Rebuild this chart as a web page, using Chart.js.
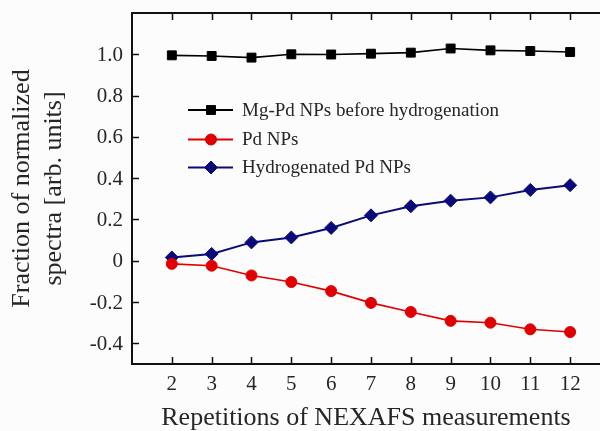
<!DOCTYPE html>
<html>
<head>
<meta charset="utf-8">
<script src="https://cdn.jsdelivr.net/npm/chart.js@4/dist/chart.umd.min.js"></script>
<style>
  html, body { margin: 0; padding: 0; background: #fcfcfc; overflow: hidden; }
  #c { display: block; width: 600px; height: 431px; }
</style>
</head>
<body>
<canvas id="c" width="600" height="431"></canvas>
<script>
// ---- data ----
const repetitions = [2, 3, 4, 5, 6, 7, 8, 9, 10, 11, 12];
const mgPdBefore = [0.995, 0.992, 0.984, 1.000, 0.999, 1.003, 1.008, 1.028, 1.019, 1.016, 1.011];
const pdNPs = [-0.015, -0.024, -0.071, -0.103, -0.147, -0.204, -0.248, -0.291, -0.300, -0.332, -0.345];
const hydrogenatedPd = [0.016, 0.033, 0.089, 0.113, 0.159, 0.220, 0.264, 0.291, 0.307, 0.343, 0.366];
const seriesNames = ['Mg-Pd NPs before hydrogenation', 'Pd NPs', 'Hydrogenated Pd NPs'];
const xTickValues = [2, 3, 4, 5, 6, 7, 8, 9, 10, 11, 12];
const xTickLabels = ['2', '3', '4', '5', '6', '7', '8', '9', '10', '11', '12'];
const yTickValues = [-0.4, -0.2, 0, 0.2, 0.4, 0.6, 0.8, 1.0];
const yTickLabels = ['-0.4', '-0.2', '0', '0.2', '0.4', '0.6', '0.8', '1.0'];
const xTitle = 'Repetitions of NEXAFS measurements';
const yTitle = ['Fraction of normalized', 'spectra [arb. units]'];

const SERIF = "'Liberation Serif', 'Times New Roman', serif";
const TEXT = '#262626';
Chart.defaults.font.family = SERIF;
Chart.defaults.color = TEXT;

function pts(ys) { return repetitions.map((x, i) => ({ x: x, y: ys[i] })); }

const frame = {
  id: 'frame',
  afterDatasetsDraw(chart) {
    const { ctx, chartArea: a, scales } = chart;
    const sx = scales.x, sy = scales.y;
    ctx.save();
    // inward tick marks
    ctx.strokeStyle = '#111';
    ctx.lineWidth = 1.5;
    ctx.beginPath();
    xTickValues.forEach(v => {
      const px = Math.round(sx.getPixelForValue(v)) + 0.5;
      ctx.moveTo(px, a.bottom); ctx.lineTo(px, a.bottom - 7);
      ctx.moveTo(px, a.top); ctx.lineTo(px, a.top + 7);
    });
    yTickValues.forEach(v => {
      const py = Math.round(sy.getPixelForValue(v)) + 0.5;
      ctx.moveTo(a.left, py); ctx.lineTo(a.left + 7, py);
    });
    ctx.stroke();
    ctx.lineWidth = 2;
    ctx.beginPath();
    ctx.moveTo(a.left, a.top); ctx.lineTo(a.right, a.top);
    ctx.stroke();

    // tick labels
    ctx.fillStyle = TEXT;
    ctx.font = '21px ' + SERIF;
    ctx.textBaseline = 'middle';
    ctx.textAlign = 'center';
    xTickValues.forEach((v, i) => ctx.fillText(xTickLabels[i], sx.getPixelForValue(v), a.bottom + 20));
    ctx.textAlign = 'right';
    yTickValues.forEach((v, i) => ctx.fillText(yTickLabels[i], a.left - 9, sy.getPixelForValue(v) + 1));

    // legend inside plot
    const rows = [110, 139.5, 167.5];
    chart.data.datasets.forEach((ds, i) => {
      const y = rows[i];
      ctx.strokeStyle = ds.borderColor;
      ctx.lineWidth = 2;
      ctx.beginPath();
      ctx.moveTo(188, y); ctx.lineTo(233, y);
      ctx.stroke();
      ctx.fillStyle = ds.pointBackgroundColor;
      ctx.strokeStyle = ds.pointBorderColor;
      ctx.lineWidth = 1;
      Chart.helpers.drawPoint(ctx, { pointStyle: ds.pointStyle, radius: ds.pointRadius, borderWidth: 1, rotation: 0 }, 211, y);
      ctx.fillStyle = TEXT;
      ctx.font = '19px ' + SERIF;
      ctx.textBaseline = 'middle';
      ctx.textAlign = 'left';
      ctx.fillText(ds.label, 242, y + 1);
    });
    ctx.restore();
  }
};

new Chart(document.getElementById('c'), {
  type: 'line',
  data: {
    datasets: [
      { label: seriesNames[0], data: pts(mgPdBefore), borderColor: '#000000', pointBackgroundColor: '#000000', pointBorderColor: '#000000', pointStyle: 'rect', pointRadius: 6.3, pointBorderWidth: 1, borderWidth: 1.6 },
      { label: seriesNames[1], data: pts(pdNPs), borderColor: '#e00000', pointBackgroundColor: '#e00000', pointBorderColor: '#e00000', pointStyle: 'circle', pointRadius: 5.5, pointBorderWidth: 1, borderWidth: 1.6 },
      { label: seriesNames[2], data: pts(hydrogenatedPd), borderColor: '#0a0a78', pointBackgroundColor: '#0a0a78', pointBorderColor: '#0a0a78', pointStyle: 'rectRot', pointRadius: 6.5, pointBorderWidth: 1, borderWidth: 2 }
    ]
  },
  options: {
    responsive: false,
    animation: false,
    devicePixelRatio: 1,
    layout: { autoPadding: false, padding: { top: 13, right: 0, left: 0, bottom: 0 } },
    plugins: { legend: { display: false }, tooltip: { enabled: false } },
    scales: {
      x: {
        type: 'linear', min: 1, max: 12.75, bounds: 'data',
        afterBuildTicks: s => { s.ticks = xTickValues.map(v => ({ value: v })); },
        afterFit: s => { s.height = 67; s.paddingLeft = 0; s.paddingRight = 0; },
        grid: { display: false, drawTicks: false },
        border: { display: true, color: '#111', width: 2 },
        ticks: { display: false },
        title: { display: true, text: xTitle, color: TEXT, font: { family: SERIF, size: 26, lineHeight: 1.0 }, padding: { top: 0, bottom: 0 } }
      },
      y: {
        type: 'linear', min: -0.5, max: 1.2, bounds: 'data',
        afterBuildTicks: s => { s.ticks = yTickValues.map(v => ({ value: v })); },
        afterFit: s => { s.width = 132; s.paddingTop = 0; s.paddingBottom = 0; },
        grid: { display: false, drawTicks: false },
        border: { display: true, color: '#111', width: 2 },
        ticks: { display: false },
        title: { display: true, text: yTitle, color: TEXT, font: { family: SERIF, size: 26, lineHeight: 1.2 }, padding: { top: 7, bottom: 0 } }
      }
    }
  },
  plugins: [frame]
});
</script>
</body>
</html>
